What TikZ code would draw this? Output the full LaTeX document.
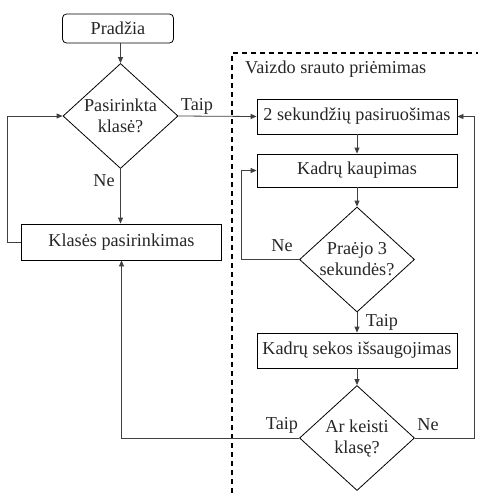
\documentclass[tikz,border=0pt]{standalone}
\usepackage{fontspec}
\setmainfont{Liberation Serif}
\usetikzlibrary{shapes.geometric,arrows.meta}
\begin{document}
\begin{tikzpicture}[x=1pt,y=-1pt,
  every node/.style={font=\fontsize{18.2}{21}\selectfont, text=black!85},
  procbox/.style={draw=black, line width=0.8pt, minimum width=200pt, minimum height=35pt, inner sep=0pt},
  startbox/.style={draw=black, line width=0.8pt, rounded corners=4pt, minimum width=111pt, minimum height=29pt, inner sep=0pt},
  decision/.style={draw=black, line width=0.8pt, diamond, aspect=1.1, inner sep=0pt, minimum width=115pt, minimum height=105pt, align=center},
  conn/.style={draw=black!75, line width=0.8pt, -{Triangle[length=6pt,width=5pt]}},
  lbl/.style={inner sep=0pt},
  sep/.style={draw=black, line width=1.6pt, dash pattern=on 5pt off 4pt}
]
\useasboundingbox (0,0) rectangle (478,493);

% nodes
\node[startbox] (start) at (118,28.5) {Pradžia};
\node[decision] (d1) at (120.5,116) {Pasirinkta\\klasė?};
\node[procbox, minimum width=200pt, minimum height=36pt] (klase) at (121.5,242) {Klasės pasirinkimas};

\node[procbox] (prep) at (357,116.5) {2 sekundžių pasiruošimas};
\node[procbox, minimum height=33pt] (kaup) at (357,170.5) {Kadrų kaupimas};
\node[decision] (d2) at (357,259.5) {Praėjo 3\\sekundės?};
\node[procbox] (save) at (357,350.5) {Kadrų sekos išsaugojimas};
\node[decision] (d3) at (357,438) {Ar keisti\\klasę?};

% separator
\coordinate (sepbot) at (232,493);
\coordinate (sepcorner) at (232,53);
\coordinate (sepright) at (478,53);
\draw[sep] (sepbot) -- (sepcorner) -- (sepright);
\node[lbl, anchor=west] (title) at (245,69) {Vaizdo srauto priėmimas};

% connectors
\draw[conn] (start.south -| d1.north) -- (d1.north);
\draw[conn] (d1.south) -- (klase.north -| d1.south);
\draw[conn] (klase.west) -- ++(-13.5,0) |- (d1.west);
\draw[conn] (d1.east) -- (prep.west);
\draw[conn] (prep.south) -- (kaup.north);
\draw[conn] (kaup.south) -- (d2.north);
\draw[conn] (d2.west) -- ++(-58,0) |- (kaup.west);
\draw[conn] (d2.south) -- (save.north);
\draw[conn] (save.south) -- (d3.north);
\draw[conn] (d3.west) -| (klase.south);
\draw[conn] (d3.east) -- ++(59,0) |- (prep.east);

% labels
\node[lbl] (t1) at (197,106) {Taip};
\node[lbl] (n1) at (104,181) {Ne};
\node[lbl] (n2) at (282,246) {Ne};
\node[lbl] (t2) at (382,322) {Taip};
\node[lbl] (t3) at (282,425) {Taip};
\node[lbl] (n3) at (428,425) {Ne};
\end{tikzpicture}
\end{document}
